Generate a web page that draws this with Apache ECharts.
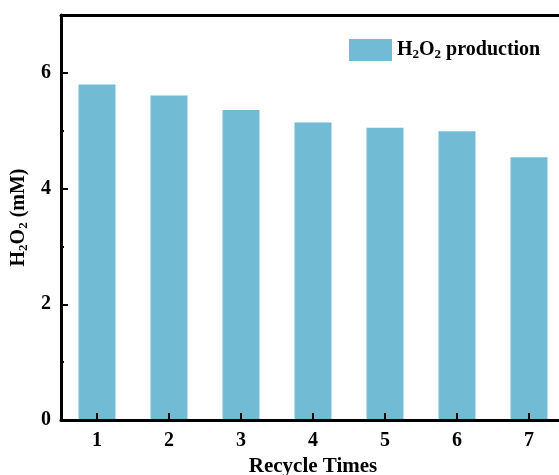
<!DOCTYPE html>
<html>
<head>
<meta charset="utf-8">
<script src="https://cdn.jsdelivr.net/npm/echarts@6/dist/echarts.min.js"></script>
<style>
  html, body { margin: 0; padding: 0; background: #fff; }
  #chart { width: 559px; height: 475px; }
</style>
</head>
<body>
<div id="chart"></div>
<script>
// Recycle runs and the H2O2 produced in each
const cycles = ['1', '2', '3', '4', '5', '6', '7'];
const h2o2Production = [5.80, 5.61, 5.36, 5.14, 5.05, 4.99, 4.54];
const yTicks = [0, 2, 4, 6];

const FONT = '"Liberation Serif", "Times New Roman", serif';
const BAR = '#72bbd5';

function subRich(size, subSize, pad) {
  return {
    n: { fontFamily: FONT, fontWeight: 'bold', fontSize: size, color: '#000' },
    s: { fontFamily: FONT, fontWeight: 'bold', fontSize: subSize, color: '#000', verticalAlign: 'bottom', padding: [pad, 0, 0, 0] }
  };
}

const chart = echarts.init(document.getElementById('chart'));
chart.setOption({
  animation: false,
  backgroundColor: '#fff',
  grid: { left: 61, top: 15, width: 504, bottom: 55, containLabel: false, outerBoundsMode: 'none' },
  legend: {
    data: [{ name: 'H2O2 production', icon: 'rect' }],
    left: 344, top: 34,
    itemWidth: 43, itemHeight: 22, itemGap: 11,
    formatter: () => '{n|H}{s|2}{n|O}{s|2}{n| production}',
    textStyle: { rich: subRich(20, 13, 9) }
  },
  xAxis: [{
    type: 'category',
    data: cycles,
    z: 10,
    name: 'Recycle Times',
    nameLocation: 'middle',
    nameGap: 31,
    nameTextStyle: { fontFamily: FONT, fontWeight: 'bold', fontSize: 21, color: '#000' },
    axisLine: { lineStyle: { color: '#000', width: 3 } },
    axisTick: { show: true, inside: true, alignWithLabel: true, length: 7, lineStyle: { color: '#000', width: 2 } },
    axisLabel: { fontFamily: FONT, fontWeight: 'bold', fontSize: 20, color: '#000', margin: 11 }
  }, {
    type: 'category',
    data: cycles,
    position: 'top',
    axisLine: { lineStyle: { color: '#000', width: 3 } },
    axisTick: { show: false },
    axisLabel: { show: false }
  }],
  yAxis: {
    type: 'value',
    min: 0, max: 7, interval: 2,
    z: 10,
    name: '{n|H}{s|2}{n|O}{s|2}{n| (mM)}',
    nameLocation: 'middle',
    nameGap: 27,
    nameRotate: 90,
    nameTextStyle: { rich: subRich(20, 13, 9) },
    axisLine: { show: true, lineStyle: { color: '#000', width: 3 } },
    axisTick: { show: true, inside: true, length: 7, lineStyle: { color: '#000', width: 2 } },
    minorTick: { show: true, splitNumber: 2, length: 3, lineStyle: { color: '#000', width: 2 } },
    splitLine: { show: false },
    axisLabel: {
      fontFamily: FONT, fontWeight: 'bold', fontSize: 20, color: '#000', margin: 10,
      showMaxLabel: false,
      formatter: v => (yTicks.includes(v) ? String(v) : '')
    }
  },
  series: [{
    name: 'H2O2 production',
    type: 'bar',
    data: h2o2Production,
    barWidth: 37,
    itemStyle: { color: BAR, borderRadius: 0 }
  }]
});
</script>
</body>
</html>
